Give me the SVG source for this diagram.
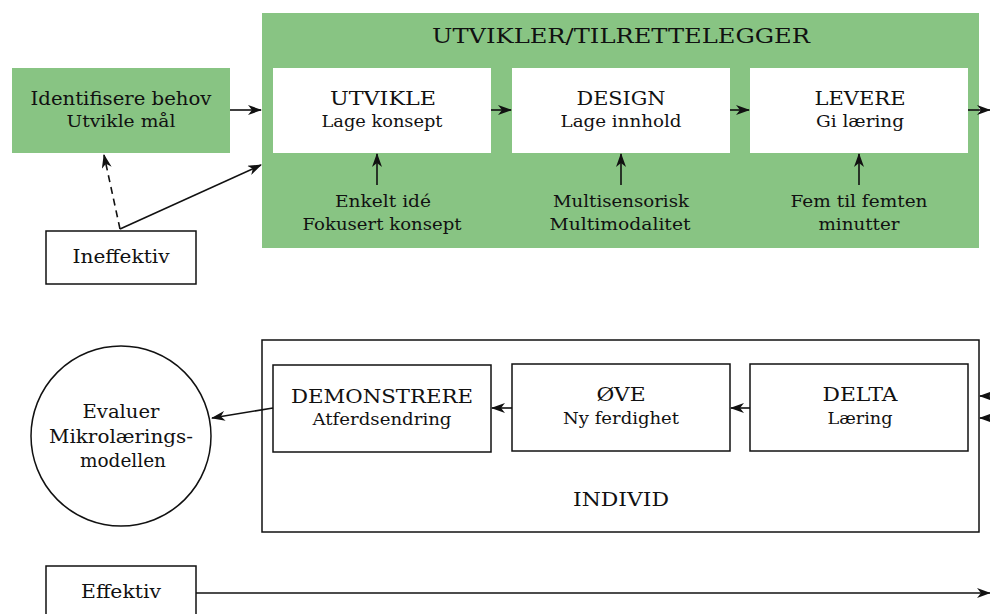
<svg xmlns="http://www.w3.org/2000/svg" width="990" height="614" viewBox="0 0 990 614">
<style>
text{font-family:"DejaVu Serif","Liberation Serif",serif;fill:#111;text-anchor:middle}
.t0{font-size:20px}
.t1{font-size:19px}
.t2{font-size:17px}
.green{fill:#88c483}
.wb{fill:#fff;stroke:none}
.bx{fill:#fff;stroke:#111;stroke-width:1.5}
.ln{stroke:#111;stroke-width:1.6;fill:none}
</style>
<defs>
<marker id="ah" viewBox="0 0 14 10" refX="13" refY="5" markerWidth="14" markerHeight="10" markerUnits="userSpaceOnUse" orient="auto">
<path d="M0,0 L14,5 L0,10 L4,5 z" fill="#111"/>
</marker>
</defs>
<g id="identifisere">
<rect class="green" x="12" y="68" width="218" height="85"/>
<text class="t1" x="121" y="105" textLength="181" lengthAdjust="spacingAndGlyphs">Identifisere behov</text>
<text class="t2" x="121" y="127" textLength="109" lengthAdjust="spacingAndGlyphs">Utvikle mål</text>
</g>
<g id="utvikler">
<rect class="green" x="262" y="13" width="717" height="235"/>
<text class="t0" x="621" y="43" textLength="378" lengthAdjust="spacingAndGlyphs">UTVIKLER/TILRETTELEGGER</text>
<text class="t2" x="383" y="207" textLength="96" lengthAdjust="spacingAndGlyphs">Enkelt idé</text>
<text class="t2" x="382" y="230" textLength="159" lengthAdjust="spacingAndGlyphs">Fokusert konsept</text>
<text class="t2" x="621" y="207" textLength="136" lengthAdjust="spacingAndGlyphs">Multisensorisk</text>
<text class="t2" x="620" y="230" textLength="141" lengthAdjust="spacingAndGlyphs">Multimodalitet</text>
<text class="t2" x="859" y="207" textLength="137" lengthAdjust="spacingAndGlyphs">Fem til femten</text>
<text class="t2" x="859" y="230" textLength="81" lengthAdjust="spacingAndGlyphs">minutter</text>
</g>
<g id="utvikle">
<rect class="wb" x="273" y="68" width="218" height="85"/>
<text class="t1" x="383" y="105" textLength="106" lengthAdjust="spacingAndGlyphs">UTVIKLE</text>
<text class="t2" x="382" y="127" textLength="121" lengthAdjust="spacingAndGlyphs">Lage konsept</text>
</g>
<g id="design">
<rect class="wb" x="512" y="68" width="218" height="85"/>
<text class="t1" x="621" y="105" textLength="89" lengthAdjust="spacingAndGlyphs">DESIGN</text>
<text class="t2" x="621" y="127" textLength="121" lengthAdjust="spacingAndGlyphs">Lage innhold</text>
</g>
<g id="levere">
<rect class="wb" x="750" y="68" width="218" height="85"/>
<text class="t1" x="860" y="105" textLength="91" lengthAdjust="spacingAndGlyphs">LEVERE</text>
<text class="t2" x="860" y="127" textLength="88" lengthAdjust="spacingAndGlyphs">Gi læring</text>
</g>
<g id="ineffektiv">
<rect class="bx" x="46" y="231" width="150" height="53"/>
<text class="t1" x="121" y="263" textLength="97" lengthAdjust="spacingAndGlyphs">Ineffektiv</text>
</g>
<g id="evaluer">
<circle cx="121" cy="436" r="90" fill="#fff" stroke="#111" stroke-width="1.5"/>
<text class="t1" x="121" y="418" textLength="77" lengthAdjust="spacingAndGlyphs">Evaluer</text>
<text class="t1" x="121" y="443" textLength="144" lengthAdjust="spacingAndGlyphs">Mikrolærings-</text>
<text class="t1" x="123" y="467" textLength="86" lengthAdjust="spacingAndGlyphs">modellen</text>
</g>
<g id="individ">
<rect class="bx" x="262" y="340" width="717" height="192"/>
<text class="t1" x="621" y="506" textLength="96" lengthAdjust="spacingAndGlyphs">INDIVID</text>
</g>
<g id="demonstrere">
<rect class="bx" x="273" y="365" width="218" height="87"/>
<text class="t1" x="382" y="403" textLength="182" lengthAdjust="spacingAndGlyphs">DEMONSTRERE</text>
<text class="t2" x="382" y="425" textLength="139" lengthAdjust="spacingAndGlyphs">Atferdsendring</text>
</g>
<g id="ove">
<rect class="bx" x="512" y="364" width="218" height="87"/>
<text class="t1" x="621" y="401" textLength="49" lengthAdjust="spacingAndGlyphs">ØVE</text>
<text class="t2" x="621" y="424" textLength="116" lengthAdjust="spacingAndGlyphs">Ny ferdighet</text>
</g>
<g id="delta">
<rect class="bx" x="750" y="364" width="218" height="87"/>
<text class="t1" x="860" y="401" textLength="75" lengthAdjust="spacingAndGlyphs">DELTA</text>
<text class="t2" x="860" y="424" textLength="65" lengthAdjust="spacingAndGlyphs">Læring</text>
</g>
<g id="effektiv">
<rect class="bx" x="46" y="566" width="150" height="53"/>
<text class="t1" x="121" y="598" textLength="80" lengthAdjust="spacingAndGlyphs">Effektiv</text>
</g>
<g id="connectors">
<line class="ln" x1="230" y1="110" x2="261" y2="110" marker-end="url(#ah)"/>
<line class="ln" x1="491" y1="110" x2="511" y2="110" marker-end="url(#ah)"/>
<line class="ln" x1="730" y1="110" x2="749" y2="110" marker-end="url(#ah)"/>
<line class="ln" x1="968" y1="110" x2="990" y2="110" marker-end="url(#ah)"/>
<line class="ln" x1="377" y1="185" x2="377" y2="154" marker-end="url(#ah)"/>
<line class="ln" x1="621" y1="185" x2="621" y2="154" marker-end="url(#ah)"/>
<line class="ln" x1="859" y1="185" x2="859" y2="154" marker-end="url(#ah)"/>
<line class="ln" x1="120" y1="229" x2="104" y2="155" stroke-dasharray="7,5" marker-end="url(#ah)"/>
<line class="ln" x1="120" y1="229" x2="261" y2="165" marker-end="url(#ah)"/>
<line class="ln" x1="512" y1="408" x2="492" y2="408" marker-end="url(#ah)"/>
<line class="ln" x1="750" y1="408" x2="731" y2="408" marker-end="url(#ah)"/>
<line class="ln" x1="1000" y1="396" x2="980" y2="396" marker-end="url(#ah)"/>
<line class="ln" x1="1000" y1="418" x2="980" y2="418" marker-end="url(#ah)"/>
<line class="ln" x1="273" y1="408" x2="212" y2="418" marker-end="url(#ah)"/>
<line class="ln" x1="196" y1="593" x2="990" y2="593" marker-end="url(#ah)"/>
</g>
</svg>
